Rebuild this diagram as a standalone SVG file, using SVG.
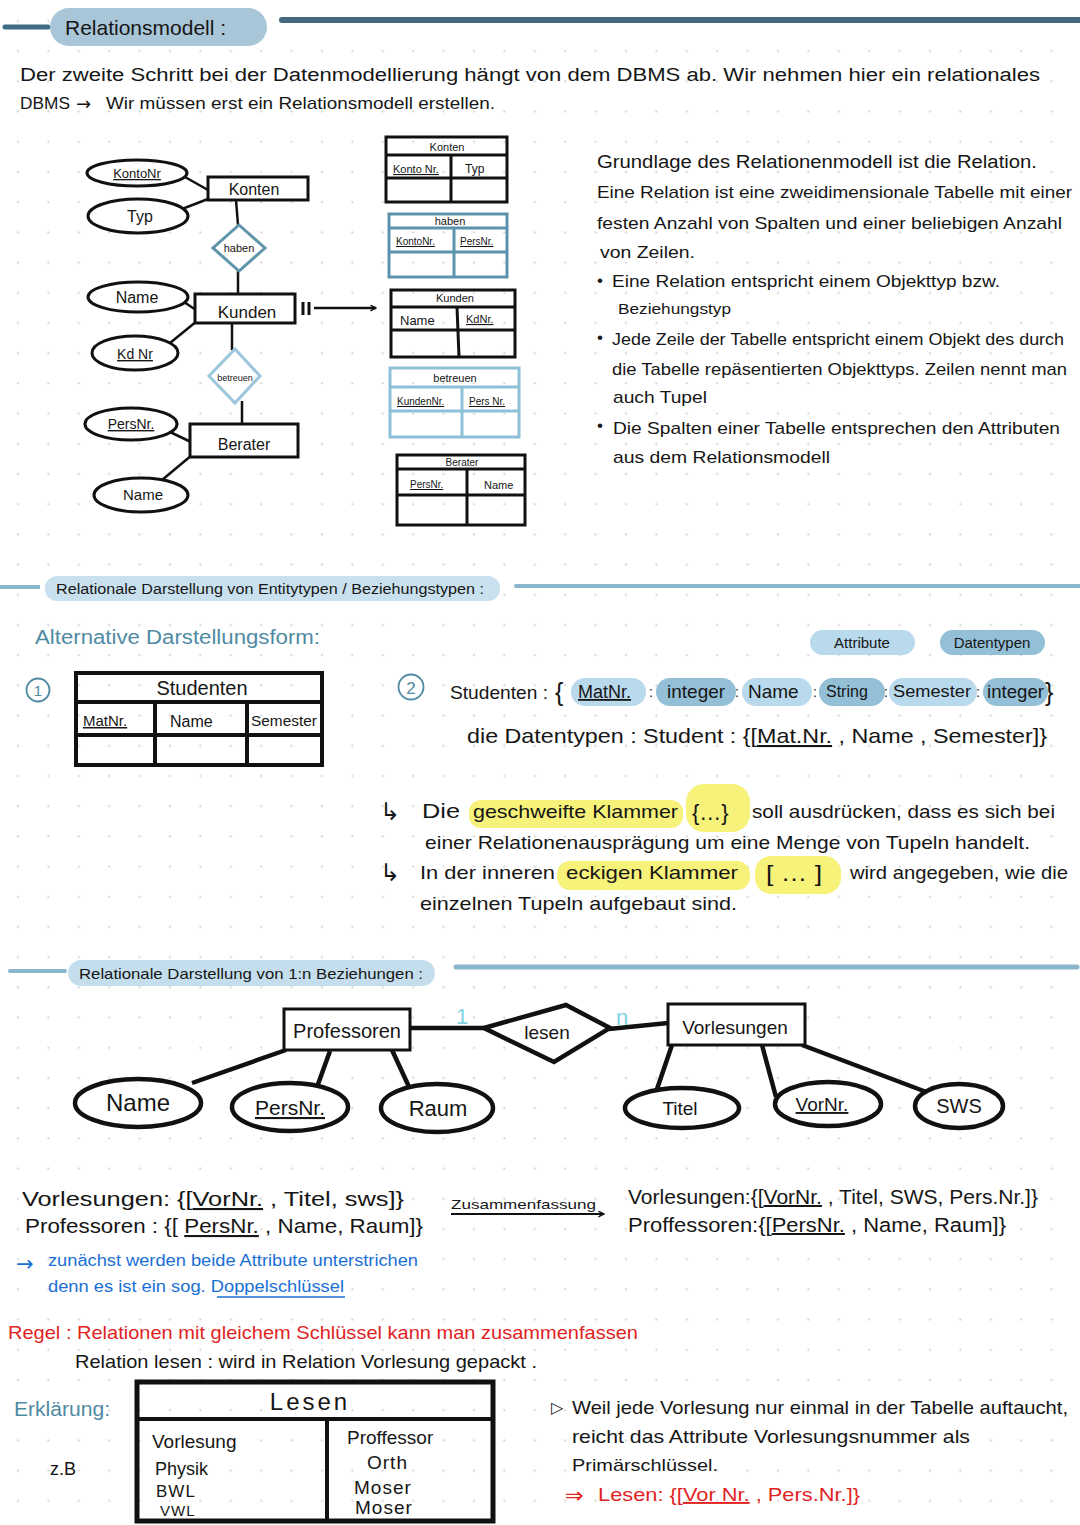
<svg xmlns="http://www.w3.org/2000/svg" width="1080" height="1525" viewBox="0 0 1080 1525">
<defs>
<pattern id="dots" x="3" y="6" width="30.4" height="30.2" patternUnits="userSpaceOnUse"><circle cx="15" cy="15" r="1.1" fill="#d2d2d2"/></pattern>
<marker id="arr" viewBox="0 0 10 10" refX="9" refY="5" markerWidth="7" markerHeight="7" orient="auto" markerUnits="userSpaceOnUse"><path d="M1,1 L9,5 L1,9" fill="none" stroke="#111" stroke-width="2"/></marker>
<style>
.t{font-family:"Liberation Sans",Arial,sans-serif;fill:#161616}
.sym{font-family:"DejaVu Sans",sans-serif}
.u{text-decoration:underline}
.box{fill:#fff;stroke:#111;stroke-width:3}
.bk{fill:none;stroke:#111;stroke-width:3}
.ln{stroke:#111;stroke-width:2.5;fill:none}
.ln2{stroke:#111;stroke-width:4.5;fill:none}
.el{fill:#fff;stroke:#111;stroke-width:3}
.el2{fill:#fff;stroke:#111;stroke-width:4.5}
.tb1{fill:none;stroke:#5b93ad;stroke-width:3}
.tb2{fill:none;stroke:#8ec0d8;stroke-width:3}
.pl{fill:#b9d9ec}
.pd{fill:#93bfd7}
.yl{fill:#f6f27a}
.blu{fill:#4f8aa3}
.red{fill:#e0231f}
.bl2{fill:#1a6fd6}
</style>
</defs>
<rect width="1080" height="1525" fill="#fff"/>
<rect width="1080" height="1525" fill="url(#dots)"/>

<!-- Section 1 header -->
<g id="header1">
<line x1="5" y1="27" x2="48" y2="27" stroke="#3f6d84" stroke-width="5" stroke-linecap="round"/>
<rect x="50" y="8" width="217" height="38" rx="19" fill="#a9c6d8"/>
<text class="t" x="65" y="35" font-size="21">Relationsmodell :</text>
<line x1="282" y1="20" x2="1080" y2="20" stroke="#44697d" stroke-width="6" stroke-linecap="round"/>
</g>
<g id="intro">
<text class="t" x="20" y="81" font-size="18" textLength="1020" lengthAdjust="spacingAndGlyphs">Der zweite Schritt bei der Datenmodellierung hängt von dem  DBMS ab. Wir nehmen hier ein relationales</text>
<text class="t" x="20" y="109" font-size="17" textLength="50" lengthAdjust="spacingAndGlyphs">DBMS</text>
<text class="t sym" x="76" y="110" font-size="18">→</text>
<text class="t" x="106" y="109" font-size="17" textLength="389" lengthAdjust="spacingAndGlyphs">Wir müssen erst ein Relationsmodell erstellen.</text>
</g>

<!-- Top ER connectors -->
<g id="er1-connectors">
<line class="ln" x1="185" y1="177" x2="208" y2="190"/>
<line class="ln" x1="182" y1="209" x2="208" y2="199"/>
<line class="ln" x1="236" y1="200" x2="238" y2="225"/>
<line class="ln" x1="238" y1="271" x2="238" y2="295"/>
<line class="ln" x1="184" y1="302" x2="196" y2="310"/>
<line class="ln" x1="170" y1="343" x2="197" y2="321"/>
<line class="ln" x1="232" y1="323" x2="232" y2="350"/>
<line class="ln" x1="242" y1="401" x2="242" y2="424"/>
<line class="ln" x1="170" y1="432" x2="191" y2="442"/>
<line class="ln" x1="162" y1="480" x2="192" y2="455"/>
<line x1="303" y1="302" x2="303" y2="315" stroke="#111" stroke-width="3"/>
<line x1="309" y1="302" x2="309" y2="315" stroke="#111" stroke-width="3"/>
<line x1="314" y1="308" x2="376" y2="308" stroke="#111" stroke-width="2.5" marker-end="url(#arr)"/>
</g>
<g id="e-kontonr"><ellipse class="el" cx="137" cy="173" rx="50" ry="13"/><text class="t u" x="137" y="178" font-size="13" text-anchor="middle">KontoNr</text></g>
<g id="e-typ"><ellipse class="el" cx="138" cy="216" rx="50" ry="17"/><text class="t" x="140" y="222" font-size="16" text-anchor="middle">Typ</text></g>
<g id="n-konten"><rect class="box" x="208" y="177" width="100" height="23"/><text class="t" x="254" y="195" font-size="16" text-anchor="middle">Konten</text></g>
<g id="d-haben"><polygon points="239,225 265,248 239,271 213,248" fill="#fff" stroke="#5f94ab" stroke-width="3"/><text class="t" x="239" y="252" font-size="11" text-anchor="middle">haben</text></g>
<g id="e-name1"><ellipse class="el" cx="138" cy="297" rx="50" ry="15"/><text class="t" x="137" y="303" font-size="16" text-anchor="middle">Name</text></g>
<g id="n-kunden"><rect class="box" x="195" y="294" width="100" height="29"/><text class="t" x="247" y="318" font-size="17" text-anchor="middle">Kunden</text></g>
<g id="e-kdnr"><ellipse class="el" cx="135" cy="353" rx="43" ry="17"/><text class="t u" x="135" y="359" font-size="14" text-anchor="middle">Kd Nr</text></g>
<g id="d-betreuen"><polygon points="235,349 260,376 235,403 209,376" fill="#fff" stroke="#9cc6da" stroke-width="3"/><text class="t" x="235" y="381" font-size="9" text-anchor="middle">betreuen</text></g>
<g id="e-persnr1"><ellipse class="el" cx="131" cy="424" rx="46" ry="16"/><text class="t u" x="131" y="429" font-size="14" text-anchor="middle">PersNr.</text></g>
<g id="n-berater"><rect class="box" x="190" y="424" width="108" height="33"/><text class="t" x="244" y="450" font-size="16" text-anchor="middle">Berater</text></g>
<g id="e-name2"><ellipse class="el" cx="141" cy="495" rx="47" ry="17"/><text class="t" x="143" y="500" font-size="15" text-anchor="middle">Name</text></g>

<!-- Tables top -->
<g id="tbl-konten">
<rect class="bk" x="386" y="137" width="121" height="65"/>
<line class="bk" x1="386" y1="155" x2="507" y2="155"/>
<line class="bk" x1="386" y1="178" x2="507" y2="178"/>
<line class="bk" x1="451" y1="155" x2="451" y2="202"/>
<text class="t" x="447" y="151" font-size="11" text-anchor="middle">Konten</text>
<text class="t u" x="393" y="173" font-size="11">Konto Nr.</text>
<text class="t" x="465" y="173" font-size="12">Typ</text>
</g>
<g id="tbl-haben">
<rect class="tb1" x="389" y="214" width="118" height="63"/>
<line class="tb1" x1="389" y1="228" x2="507" y2="228"/>
<line class="tb1" x1="389" y1="252" x2="507" y2="252"/>
<line class="tb1" x1="454" y1="228" x2="454" y2="277"/>
<text class="t" x="450" y="225" font-size="11" text-anchor="middle">haben</text>
<text class="t u" x="396" y="245" font-size="10">KontoNr.</text>
<text class="t u" x="460" y="245" font-size="10">PersNr.</text>
</g>
<g id="tbl-kunden">
<rect class="bk" x="391" y="290" width="124" height="67"/>
<line class="bk" x1="391" y1="307" x2="515" y2="307"/>
<line class="bk" x1="391" y1="330" x2="515" y2="330"/>
<line class="bk" x1="457" y1="307" x2="459" y2="357"/>
<text class="t" x="455" y="302" font-size="11" text-anchor="middle">Kunden</text>
<text class="t" x="400" y="325" font-size="13">Name</text>
<text class="t u" x="466" y="323" font-size="11">KdNr.</text>
</g>
<g id="tbl-betreuen">
<rect class="tb2" x="390" y="368" width="129" height="69"/>
<line class="tb2" x1="390" y1="387" x2="519" y2="387"/>
<line class="tb2" x1="390" y1="411" x2="519" y2="411"/>
<line class="tb2" x1="462" y1="387" x2="462" y2="437"/>
<text class="t" x="455" y="382" font-size="11" text-anchor="middle">betreuen</text>
<text class="t u" x="397" y="405" font-size="10">KundenNr.</text>
<text class="t u" x="469" y="405" font-size="10">Pers Nr.</text>
</g>
<g id="tbl-berater">
<rect class="bk" x="397" y="455" width="128" height="70"/>
<line class="bk" x1="397" y1="469" x2="525" y2="469"/>
<line class="bk" x1="397" y1="495" x2="525" y2="495"/>
<line class="bk" x1="467" y1="469" x2="467" y2="525"/>
<text class="t" x="462" y="466" font-size="10" text-anchor="middle">Berater</text>
<text class="t u" x="410" y="488" font-size="10">PersNr.</text>
<text class="t" x="484" y="489" font-size="11">Name</text>
</g>

<!-- Right text block -->
<g id="relation-text">
<text class="t" x="597" y="168" font-size="18" textLength="440" lengthAdjust="spacingAndGlyphs">Grundlage des Relationenmodell ist die Relation.</text>
<text class="t" x="597" y="198" font-size="17" textLength="475" lengthAdjust="spacingAndGlyphs">Eine Relation ist eine zweidimensionale Tabelle mit einer</text>
<text class="t" x="597" y="229" font-size="17" textLength="465" lengthAdjust="spacingAndGlyphs">festen Anzahl von Spalten und einer beliebigen Anzahl</text>
<text class="t" x="600" y="258" font-size="17" textLength="95" lengthAdjust="spacingAndGlyphs">von Zeilen.</text>
<text class="t" x="597" y="286" font-size="17">•</text>
<text class="t" x="612" y="287" font-size="17" textLength="388" lengthAdjust="spacingAndGlyphs">Eine Relation entspricht einem Objekttyp bzw.</text>
<text class="t" x="618" y="314" font-size="15" textLength="113" lengthAdjust="spacingAndGlyphs">Beziehungstyp</text>
<text class="t" x="597" y="343" font-size="17">•</text>
<text class="t" x="612" y="345" font-size="17" textLength="452" lengthAdjust="spacingAndGlyphs">Jede Zeile der Tabelle entspricht einem Objekt des durch</text>
<text class="t" x="612" y="375" font-size="17" textLength="455" lengthAdjust="spacingAndGlyphs">die Tabelle repäsentierten Objekttyps. Zeilen nennt man</text>
<text class="t" x="613" y="403" font-size="17" textLength="94" lengthAdjust="spacingAndGlyphs">auch Tupel</text>
<text class="t" x="597" y="431" font-size="17">•</text>
<text class="t" x="613" y="434" font-size="17" textLength="447" lengthAdjust="spacingAndGlyphs">Die Spalten einer Tabelle entsprechen den Attributen</text>
<text class="t" x="613" y="463" font-size="17" textLength="217" lengthAdjust="spacingAndGlyphs">aus dem Relationsmodell</text>
</g>

<!-- Section 2 header -->
<g id="header2">
<line x1="0" y1="587" x2="40" y2="587" stroke="#8ab6cd" stroke-width="4"/>
<rect x="45" y="576" width="455" height="25" rx="12" fill="#c9e1ef"/>
<text class="t" x="56" y="594" font-size="14" textLength="428" lengthAdjust="spacingAndGlyphs">Relationale  Darstellung von Entitytypen / Beziehungstypen :</text>
<line x1="516" y1="586" x2="1080" y2="586" stroke="#8ab6cd" stroke-width="4" stroke-linecap="round"/>
</g>
<text class="t blu" x="35" y="644" font-size="20" textLength="285" lengthAdjust="spacingAndGlyphs">Alternative  Darstellungsform:</text>

<g id="studenten-table">
<circle cx="38" cy="690" r="11.5" fill="none" stroke="#4f8aa3" stroke-width="1.8"/>
<text class="t blu" x="38" y="696" font-size="15" text-anchor="middle">1</text>
<rect x="76" y="673" width="246" height="92" fill="none" stroke="#111" stroke-width="4"/>
<line x1="76" y1="702" x2="322" y2="702" stroke="#111" stroke-width="4"/>
<line x1="76" y1="735" x2="322" y2="735" stroke="#111" stroke-width="4"/>
<line x1="155" y1="702" x2="155" y2="765" stroke="#111" stroke-width="4"/>
<line x1="247" y1="702" x2="247" y2="765" stroke="#111" stroke-width="4"/>
<text class="t" x="202" y="695" font-size="20" text-anchor="middle">Studenten</text>
<text class="t u" x="83" y="726" font-size="15">MatNr.</text>
<text class="t" x="170" y="727" font-size="16">Name</text>
<text class="t" x="251" y="726" font-size="14" textLength="66" lengthAdjust="spacingAndGlyphs">Semester</text>
</g>

<g id="legend">
<rect class="pl" x="810" y="630" width="105" height="25" rx="12.5"/>
<text class="t" x="862" y="648" font-size="15" text-anchor="middle">Attribute</text>
<rect class="pd" x="940" y="630" width="105" height="25" rx="12.5"/>
<text class="t" x="992" y="648" font-size="15" text-anchor="middle">Datentypen</text>
</g>

<g id="studenten-formula">
<circle cx="411" cy="687" r="12.5" fill="none" stroke="#4f8aa3" stroke-width="1.8"/>
<text class="t blu" x="411" y="694" font-size="17" text-anchor="middle">2</text>
<text class="t" x="450" y="699" font-size="19" textLength="98" lengthAdjust="spacingAndGlyphs">Studenten :</text>
<text class="t" x="555" y="701" font-size="25">{</text>
<rect class="pl" x="571" y="678" width="75" height="28" rx="14"/>
<text class="t u" x="578" y="698" font-size="18">MatNr.</text>
<text class="t" x="649" y="697" font-size="14">:</text>
<rect class="pd" x="656" y="678" width="80" height="28" rx="14"/>
<text class="t" x="667" y="698" font-size="19">integer</text>
<text class="t" x="735" y="697" font-size="14">:</text>
<rect class="pl" x="742" y="678" width="70" height="28" rx="14"/>
<text class="t" x="748" y="698" font-size="19">Name</text>
<text class="t" x="813" y="697" font-size="14">:</text>
<rect class="pd" x="819" y="678" width="66" height="28" rx="14"/>
<text class="t" x="826" y="697" font-size="16">String</text>
<text class="t" x="884" y="697" font-size="14">:</text>
<rect class="pl" x="889" y="678" width="88" height="28" rx="14"/>
<text class="t" x="893" y="697" font-size="16" textLength="78" lengthAdjust="spacingAndGlyphs">Semester</text>
<text class="t" x="976" y="697" font-size="14">:</text>
<rect class="pd" x="983" y="678" width="65" height="28" rx="14"/>
<text class="t" x="987" y="698" font-size="18" textLength="57" lengthAdjust="spacingAndGlyphs">integer</text>
<text class="t" x="1045" y="701" font-size="25">}</text>
<text class="t" x="467" y="743" font-size="21" textLength="580" lengthAdjust="spacingAndGlyphs">die  Datentypen : Student : {[<tspan class="u">Mat.Nr.</tspan> , Name , Semester]}</text>
</g>

<g id="klammer-notes">
<rect class="yl" x="469" y="800" width="214" height="28" rx="12"/>
<rect class="yl" x="686" y="784" width="64" height="48" rx="18"/>
<rect class="yl" x="557" y="861" width="193" height="29" rx="13"/>
<rect class="yl" x="755" y="856" width="86" height="38" rx="16"/>
<text class="t sym" x="380" y="820" font-size="24">↳</text>
<text class="t" x="422" y="818" font-size="20" textLength="38" lengthAdjust="spacingAndGlyphs">Die</text>
<text class="t" x="473" y="818" font-size="19" textLength="205" lengthAdjust="spacingAndGlyphs">geschweifte Klammer</text>
<text class="t" x="692" y="820" font-size="22">{…}</text>
<text class="t" x="752" y="818" font-size="19" textLength="303" lengthAdjust="spacingAndGlyphs">soll ausdrücken, dass es sich bei</text>
<text class="t" x="425" y="849" font-size="19" textLength="605" lengthAdjust="spacingAndGlyphs">einer Relationenausprägung um eine Menge von Tupeln handelt.</text>
<text class="t sym" x="380" y="881" font-size="24">↳</text>
<text class="t" x="420" y="879" font-size="19" textLength="135" lengthAdjust="spacingAndGlyphs">In der inneren</text>
<text class="t" x="566" y="879" font-size="19" textLength="172" lengthAdjust="spacingAndGlyphs">eckigen  Klammer</text>
<text class="t" x="766" y="881" font-size="22" textLength="56" lengthAdjust="spacingAndGlyphs">[ … ]</text>
<text class="t" x="850" y="879" font-size="19" textLength="218" lengthAdjust="spacingAndGlyphs">wird angegeben, wie die</text>
<text class="t" x="420" y="910" font-size="19" textLength="317" lengthAdjust="spacingAndGlyphs">einzelnen Tupeln aufgebaut sind.</text>
</g>

<!-- Section 3 header -->
<g id="header3">
<line x1="10" y1="971" x2="65" y2="971" stroke="#8ab6cd" stroke-width="4" stroke-linecap="round"/>
<rect x="68" y="960" width="367" height="26" rx="13" fill="#c5deed"/>
<text class="t" x="79" y="979" font-size="15" textLength="344" lengthAdjust="spacingAndGlyphs">Relationale Darstellung von 1:n Beziehungen :</text>
<line x1="456" y1="967" x2="1077" y2="967" stroke="#8ab6cd" stroke-width="5" stroke-linecap="round"/>
</g>

<g id="er2-connectors">
<line class="ln2" x1="410" y1="1028" x2="484" y2="1028"/>
<line class="ln2" x1="609" y1="1029" x2="668" y2="1023"/>
<line class="ln2" x1="286" y1="1050" x2="192" y2="1083"/>
<line class="ln2" x1="330" y1="1051" x2="317" y2="1087"/>
<line class="ln2" x1="392" y1="1050" x2="410" y2="1089"/>
<line class="ln2" x1="672" y1="1045" x2="656" y2="1092"/>
<line class="ln2" x1="762" y1="1045" x2="776" y2="1097"/>
<line class="ln2" x1="802" y1="1045" x2="929" y2="1093"/>
<text x="456" y="1024" font-family="Liberation Sans, sans-serif" font-size="22" fill="#7fd3e3">1</text>
<text x="616" y="1025" font-family="Liberation Sans, sans-serif" font-size="22" fill="#7fd3e3">n</text>
</g>
<g id="n-professoren"><rect class="box" x="284" y="1009" width="126" height="41" stroke-width="4"/><text class="t" x="347" y="1038" font-size="20" text-anchor="middle">Professoren</text></g>
<g id="d-lesen"><polygon points="484,1028 566,1005 610,1028 554,1062" fill="#fff" stroke="#111" stroke-width="4.5"/><text class="t" x="547" y="1039" font-size="19" text-anchor="middle">lesen</text></g>
<g id="n-vorlesungen"><rect class="box" x="668" y="1004" width="137" height="41" stroke-width="4"/><text class="t" x="735" y="1034" font-size="19" text-anchor="middle">Vorlesungen</text></g>
<g id="e2-name"><ellipse class="el2" cx="138" cy="1103" rx="63" ry="24"/><text class="t" x="138" y="1111" font-size="24" text-anchor="middle">Name</text></g>
<g id="e2-persnr"><ellipse class="el2" cx="290" cy="1107" rx="58" ry="24"/><text class="t u" x="290" y="1115" font-size="21" text-anchor="middle">PersNr.</text></g>
<g id="e2-raum"><ellipse class="el2" cx="437" cy="1108" rx="56" ry="24"/><text class="t" x="438" y="1116" font-size="22" text-anchor="middle">Raum</text></g>
<g id="e2-titel"><ellipse class="el2" cx="682" cy="1108" rx="57" ry="20"/><text class="t" x="680" y="1115" font-size="19" text-anchor="middle">Titel</text></g>
<g id="e2-vornr"><ellipse class="el2" cx="828" cy="1104" rx="53" ry="22"/><text class="t u" x="822" y="1111" font-size="19" text-anchor="middle">VorNr.</text></g>
<g id="e2-sws"><ellipse class="el2" cx="959" cy="1106" rx="44" ry="22"/><text class="t" x="959" y="1113" font-size="20" text-anchor="middle">SWS</text></g>

<g id="formulas">
<text class="t" x="22" y="1206" font-size="21" textLength="382" lengthAdjust="spacingAndGlyphs">Vorlesungen: {[<tspan class="u">VorNr.</tspan> , Titel, sws]}</text>
<text class="t" x="25" y="1233" font-size="21" textLength="398" lengthAdjust="spacingAndGlyphs">Professoren : {[ <tspan class="u">PersNr.</tspan> , Name, Raum]}</text>
<text class="t" x="451" y="1209" font-size="13" textLength="145" lengthAdjust="spacingAndGlyphs">Zusammenfassung</text>
<line x1="451" y1="1214" x2="604" y2="1214" stroke="#111" stroke-width="1.8" marker-end="url(#arr)"/>
<text class="t" x="628" y="1204" font-size="20" textLength="410" lengthAdjust="spacingAndGlyphs">Vorlesungen:{[<tspan class="u">VorNr.</tspan> , Titel, SWS, Pers.Nr.]}</text>
<text class="t" x="628" y="1232" font-size="20" textLength="378" lengthAdjust="spacingAndGlyphs">Proffessoren:{[<tspan class="u">PersNr.</tspan> , Name, Raum]}</text>
<text class="t bl2 sym" x="16" y="1271" font-size="21">→</text>
<text class="t bl2" x="48" y="1266" font-size="16" textLength="370" lengthAdjust="spacingAndGlyphs">zunächst werden beide Attribute unterstrichen</text>
<text class="t bl2" x="48" y="1292" font-size="16" textLength="296" lengthAdjust="spacingAndGlyphs">denn es ist ein sog. Doppelschlüssel</text>
<line x1="217" y1="1297" x2="345" y2="1297" stroke="#1a6fd6" stroke-width="1.6"/>
</g>

<g id="regel">
<text class="t red" x="8" y="1339" font-size="19" textLength="630" lengthAdjust="spacingAndGlyphs">Regel : Relationen mit gleichem Schlüssel kann man zusammenfassen</text>
<text class="t" x="75" y="1368" font-size="19" textLength="462" lengthAdjust="spacingAndGlyphs">Relation lesen : wird in Relation Vorlesung gepackt .</text>
<text class="t blu" x="14" y="1416" font-size="20" textLength="96" lengthAdjust="spacingAndGlyphs">Erklärung:</text>
<text class="t" x="50" y="1475" font-size="18">z.B</text>
</g>

<g id="tbl-lesen">
<rect x="137" y="1382" width="356" height="139" fill="none" stroke="#111" stroke-width="5"/>
<line x1="137" y1="1419" x2="493" y2="1419" stroke="#111" stroke-width="4"/>
<line x1="327" y1="1419" x2="327" y2="1521" stroke="#111" stroke-width="4"/>
<text class="t" x="310" y="1410" font-size="24" text-anchor="middle" letter-spacing="3">Lesen</text>
<text class="t" x="152" y="1448" font-size="19">Vorlesung</text>
<text class="t" x="155" y="1475" font-size="18">Physik</text>
<text class="t" x="156" y="1497" font-size="17" letter-spacing="1">BWL</text>
<text class="t" x="160" y="1516" font-size="15" letter-spacing="1">VWL</text>
<text class="t" x="347" y="1444" font-size="19">Proffessor</text>
<text class="t" x="367" y="1469" font-size="19" letter-spacing="1">Orth</text>
<text class="t" x="354" y="1494" font-size="19" letter-spacing="1">Moser</text>
<text class="t" x="355" y="1514" font-size="19" letter-spacing="1">Moser</text>
</g>

<g id="weil-text">
<text class="t sym" x="551" y="1413" font-size="16">▷</text>
<text class="t" x="572" y="1414" font-size="19" textLength="496" lengthAdjust="spacingAndGlyphs">Weil jede Vorlesung nur einmal in der Tabelle auftaucht,</text>
<text class="t" x="572" y="1443" font-size="19" textLength="398" lengthAdjust="spacingAndGlyphs">reicht das Attribute Vorlesungsnummer als</text>
<text class="t" x="572" y="1471" font-size="17" textLength="146" lengthAdjust="spacingAndGlyphs">Primärschlüssel.</text>
<text class="t red sym" x="565" y="1503" font-size="22">⇒</text>
<text class="t red" x="598" y="1501" font-size="19" textLength="262" lengthAdjust="spacingAndGlyphs">Lesen: {[<tspan class="u">Vor Nr.</tspan> , Pers.Nr.]}</text>
</g>
</svg>
